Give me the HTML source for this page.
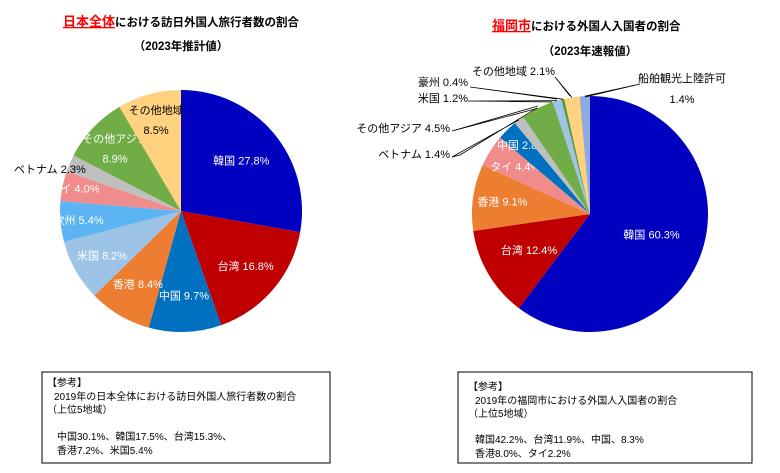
<!DOCTYPE html>
<html><head><meta charset="utf-8">
<style>
body{margin:0;background:#fff;}
svg{display:block;font-family:"Liberation Sans","Noto Sans CJK JP",sans-serif;}
.t{font-size:11.5px;font-weight:bold;fill:#000;}
.l{font-size:11px;}
.b{font-size:10px;fill:#000;}
</style></head>
<body>
<svg id="c" width="780" height="473" viewBox="0 0 780 473" xmlns="http://www.w3.org/2000/svg">
<text class="t" x="63" y="26"><tspan fill="#ff0000" text-decoration="underline" font-size="13">日本全体</tspan>における訪日外国人旅行者数の割合</text>
<text class="t" x="181" y="50" text-anchor="middle">（2023年推計値）</text>
<text class="t" x="492" y="30"><tspan fill="#ff0000" text-decoration="underline" font-size="13">福岡市</tspan>における外国人入国者の割合</text>
<text class="t" x="590" y="55" text-anchor="middle">（2023年速報値）</text>
<g id="lp"></g>
<g id="rp"></g>
<g>
<rect x="42" y="372" width="288" height="91" fill="#fff" stroke="#000" stroke-width="1"/>
<text class="b" x="47" y="386">【参考】</text>
<text class="b" x="54" y="400">2019年の日本全体における訪日外国人旅行者数の割合</text>
<text class="b" x="47" y="413">（上位5地域）</text>
<text class="b" x="57" y="440">中国30.1%、韓国17.5%、台湾15.3%、</text>
<text class="b" x="57" y="454">香港7.2%、米国5.4%</text>
</g>
<g>
<rect x="458" y="372" width="294" height="91" fill="#fff" stroke="#000" stroke-width="1"/>
<text class="b" x="468" y="390">【参考】</text>
<text class="b" x="475" y="404">2019年の福岡市における外国人入国者の割合</text>
<text class="b" x="468" y="417">（上位5地域）</text>
<text class="b" x="475" y="443">韓国42.2%、台湾11.9%、中国、8.3%</text>
<text class="b" x="475" y="457">香港8.0%、タイ2.2%</text>
</g>
</svg>
<script>
const leftCats=["韓国","台湾","中国","香港","米国","欧州","タイ","ベトナム","その他アジア","その他地域"];
const leftVals=[27.8,16.8,9.7,8.4,8.2,5.4,4.0,2.3,8.9,8.5];
const rightCats=["韓国","台湾","香港","タイ","中国","ベトナム","その他アジア","米国","豪州","その他地域","船舶観光上陸許可"];
const rightVals=[60.3,12.4,9.1,4.4,2.8,1.4,4.5,1.2,0.4,2.1,1.4];
const leftColors=["#0000c0","#c00000","#0070c0","#ed7d31","#9dc3e6","#5cb5f2","#f08c8c","#bfbfbf","#70ad47","#ffd280"];
const rightColors=["#0000c0","#c00000","#ed7d31","#f08c8c","#0070c0","#bfbfbf","#70ad47","#9dc3e6","#5b9b3a","#ffd280","#8faadc"];
const NS="http://www.w3.org/2000/svg";
function el(t,a,p){const e=document.createElementNS(NS,t);for(const k in a)e.setAttribute(k,a[k]);p.appendChild(e);return e;}
function pt(cx,cy,r,a){return [cx+r*Math.sin(a),cy-r*Math.cos(a)];}
function pie(g,cx,cy,r,cats,vals,cols,inside,outside){
  const tot=vals.reduce((a,b)=>a+b,0);let a0=0;
  vals.forEach((v,i)=>{
    const a1=a0+v/tot*2*Math.PI;
    const p0=pt(cx,cy,r,a0),p1=pt(cx,cy,r,a1);
    const s=el("path",{d:`M${cx},${cy}L${p0[0]},${p0[1]}A${r},${r} 0 ${a1-a0>Math.PI?1:0} 1 ${p1[0]},${p1[1]}Z`,fill:cols[i]},g);
    
    
    const m=(a0+a1)/2;
    if(inside[i]){
      const q=pt(cx,cy,r*inside[i][0],m);
      const lines=inside[i][1];
      lines.forEach((ln,j)=>{
        const t=el("text",{x:q[0],y:q[1]+4+(j-(lines.length-1)/2)*20,"text-anchor":"middle",class:"l",fill:inside[i][2]},g);
        
        
        t.textContent=ln.replace("{v}",v.toFixed(1)+"%");
      });
    } else if(outside[i]){
      const o=outside[i];const e=pt(cx,cy,r,m);
      const pl=el("polyline",{points:`${e[0]},${e[1]} ${o[2]}`,fill:"none",stroke:"#000","stroke-width":0.8},g);
      
      
      o[3].forEach((ln,j)=>{
        const t=el("text",{x:o[0],y:o[1]+j*21,"text-anchor":o[4]||"start",class:"l",fill:"#000"},g);
        
        
        t.textContent=ln.replace("{v}",v.toFixed(1)+"%");
      });
    }
    a0=a1;
  });
}
pie(document.getElementById("lp"),181,211,121,leftCats,leftVals,leftColors,
 [[0.65,["韓国 {v}"],"#fff"],[0.7,["台湾 {v}"],"#fff"],[0.7,["中国 {v}"],"#fff"],[0.7,["香港 {v}"],"#fff"],[0.75,["米国 {v}"],"#fff"],[0.85,["欧州 {v}"],"#fff"],[0.9,["タイ {v}"],"#fff"],null,[0.75,["その他アジア","{v}"],"#fff"],[0.78,["その他地域","{v}"],"#000"]],
 [null,null,null,null,null,null,null,[14,173,"",["ベトナム {v}"]],null,null]);
// fix vietnam: no leader line in left (label only)
pie(document.getElementById("rp"),590,214,118,rightCats,rightVals,rightColors,
 [[0.55,["韓国 {v}"],"#fff"],[0.6,["台湾 {v}"],"#fff"],[0.75,["香港 {v}"],"#fff"],[0.75,["タイ {v}"],"#fff"],[0.82,["中国 {v}"],"#fff"],null,null,null,null,null,null],
 [null,null,null,null,null,[450,158,"452,157 460,155 537,108",["ベトナム {v}"],"end"],[450,132,"452,131 538,106",["その他アジア {v}"],"end"],[468,102,"468,101 552,102",["米国 {v}"],"end"],[468,86,"470,87 557,99",["豪州 {v}"],"end"],[555,75,"555,77 570,96",["その他地域 {v}"],"end"],[682,82,"640,84 585,97",["船舶観光上陸許可","{v}"],"middle"]]);
// remove vietnam leader line on left pie
document.querySelectorAll('#lp polyline').forEach(p=>p.remove());
</script>
</body></html>
